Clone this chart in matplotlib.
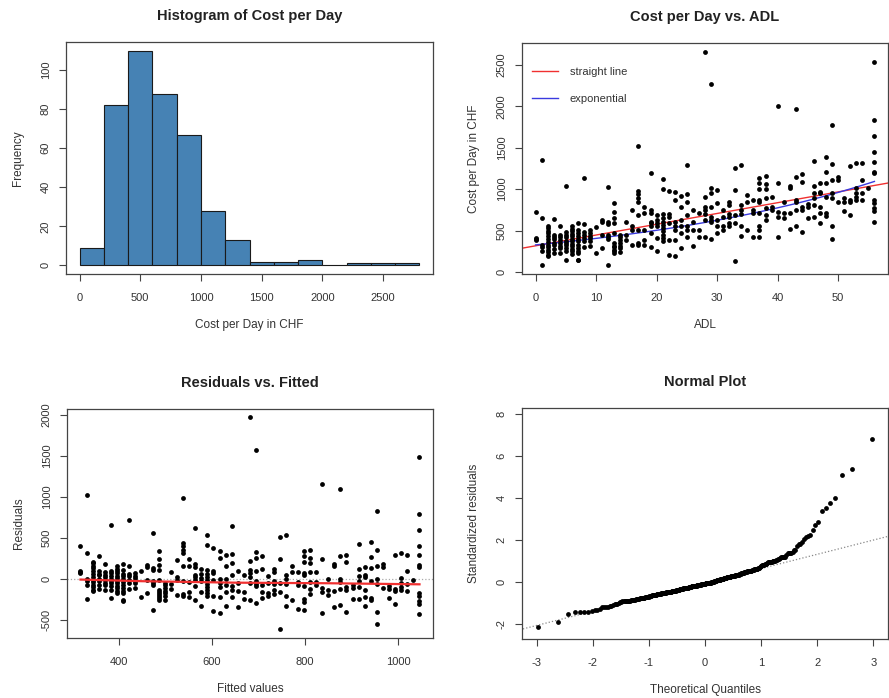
import matplotlib
matplotlib.use("Agg")
import matplotlib.pyplot as plt
import numpy as np
from statistics import NormalDist

plt.rcParams['font.family'] = ['Liberation Sans', 'DejaVu Sans']
plt.rcParams['axes.unicode_minus'] = False
plt.rcParams['text.color'] = '#333333'
plt.rcParams['axes.labelcolor'] = '#333333'
plt.rcParams['xtick.color'] = '#444444'
plt.rcParams['ytick.color'] = '#444444'
plt.rcParams['xtick.labelcolor'] = '#333333'
plt.rcParams['ytick.labelcolor'] = '#333333'

# histogram counts (bins of 200 CHF)
hist_edges = [0, 200, 400, 600, 800, 1000, 1200, 1400, 1600, 1800, 2000, 2200, 2400, 2600, 2800]
hist_counts = [9, 82, 110, 88, 67, 28, 13, 2, 2, 3, 0, 1, 1, 1]

# cost per day for each ADL score 0..56
adl_levels = list(range(57))
cost_by_adl = [
    [720, 410, 390, 400],
    [1350, 650, 330, 250, 80, 300],
    [550, 530, 500, 470, 440, 400, 360, 330, 300, 270, 240, 210, 190],
    [640, 450, 420, 400, 350, 330, 280, 230],
    [550, 450, 420, 390, 350, 320, 290, 230],
    [1040, 480, 450, 420, 380, 350, 330, 290, 250, 150],
    [550, 520, 490, 460, 430, 400, 370, 340, 310, 280, 250, 220],
    [590, 510, 470, 440, 400, 370, 330, 290, 260, 230, 150, 140],
    [1140, 580, 480, 450, 410, 370, 300],
    [510, 470, 440, 410, 380, 320],
    [540, 230],
    [630, 600, 450, 290],
    [1030, 600, 580, 450, 420, 400, 90],
    [830, 730, 650, 590, 470, 350, 320, 300, 270, 250, 230],
    [450, 420, 390, 350, 320, 290, 240],
    [600, 450, 390],
    [750, 550, 510, 330],
    [1520, 980, 940, 890, 850, 690, 510, 350, 330],
    [790, 710, 510, 390, 330],
    [1190, 750, 710, 610, 590, 550, 470, 300],
    [690, 630, 590, 550, 410, 250],
    [1120, 1000, 700, 650, 610, 570, 530, 490, 450, 410, 380],
    [980, 700, 670, 590, 390, 210],
    [960, 870, 610, 560, 510, 390, 200],
    [920, 790, 630, 550, 470, 290],
    [1290, 940, 840, 690, 550, 510, 420],
    [750, 600, 510, 310],
    [710, 510, 420],
    [2660, 900, 790, 750, 700, 630, 420],
    [2270, 1020, 950, 790, 670, 630, 600, 400],
    [990, 830, 630, 550, 470],
    [750, 670, 550, 510],
    [850, 810, 700, 670, 590, 550],
    [1250, 990, 690, 590, 130],
    [1290, 810, 750, 700, 550, 430],
    [930, 850, 510],
    [870, 750, 710, 420],
    [1140, 1080, 1000, 870, 840, 710, 550, 510, 420],
    [1160, 1060, 1000, 890, 770, 690, 630],
    [910, 790, 750],
    [2000, 1080, 730, 670, 420],
    [850, 710, 650],
    [1040, 1020, 710, 520],
    [1970, 1150, 870, 840, 750, 560],
    [1180, 1090, 790, 750, 480],
    [820, 790, 650],
    [1340, 1040, 950, 890, 810, 670],
    [1070, 970, 950, 790, 710, 590],
    [1390, 1210, 1070, 910, 710, 680],
    [1780, 1300, 1110, 950, 890, 550, 400],
    [1150, 1110, 850],
    [890, 850, 740],
    [1280, 870, 840, 690],
    [1320, 1010, 950, 910, 870],
    [1310, 1110, 950, 870],
    [1020],
    [2530, 1830, 1640, 1450, 1330, 1210, 1190, 870, 830, 770, 740, 610],
]

# model coefficients
line_intercept, line_slope = 317, 13.0
exp_a, exp_b = 328, 0.0215

# smoother in the residual plot
smooth_fitted = [317, 450, 650, 850, 1046]
smooth_resid = [-10, -30, -48, -55, -68]

adl = np.concatenate([[a] * len(c) for a, c in zip(adl_levels, cost_by_adl)]).astype(float)
cost = np.concatenate(cost_by_adl).astype(float)

fitted = line_intercept + line_slope * adl
resid = cost - fitted
n = len(resid)
s = np.sqrt(np.sum(resid ** 2) / (n - 2))
h = 1 / n + (adl - adl.mean()) ** 2 / np.sum((adl - adl.mean()) ** 2)
std_resid = np.sort(resid / (s * np.sqrt(1 - h)))
nd = NormalDist()
theo = np.array([nd.inv_cdf((i - 0.5) / n) for i in range(1, n + 1)])
q1, q3 = np.percentile(std_resid, [25, 75])
x1, x3 = nd.inv_cdf(0.25), nd.inv_cdf(0.75)
qq_slope = (q3 - q1) / (x3 - x1)
qq_int = q1 - qq_slope * x1

fig = plt.figure(figsize=(8.89, 6.98), dpi=100)
W, H = 889, 698


def make_ax(x0, y0, x1, y1):
    return fig.add_axes([x0 / W, 1 - y1 / H, (x1 - x0) / W, (y1 - y0) / H])


def style(ax, title, xlabel, ylabel):
    ax.set_title(title, fontsize=10.5, fontweight='bold', pad=16, color='#222222')
    ax.set_xlabel(xlabel, fontsize=8.5, labelpad=12)
    ax.set_ylabel(ylabel, fontsize=8.5, labelpad=12)
    ax.tick_params(direction='out', length=5, width=0.8, labelsize=8, pad=6)
    ax.tick_params(axis='x', pad=8.5)
    ax.tick_params(axis='y', labelrotation=90)
    for lab in ax.get_yticklabels():
        lab.set_va('center')
    for sp in ax.spines.values():
        sp.set_color('#444444')
        sp.set_linewidth(0.9)


# Histogram
ax1 = make_ax(66, 42, 433, 274)
ax1.bar(hist_edges[:-1], hist_counts, width=np.diff(hist_edges), align='edge',
        color='#4682B4', edgecolor='#1a1a1a', linewidth=0.8)
ax1.set_xlim(-112, 2912)
ax1.set_ylim(-4.4, 114.4)
ax1.set_xticks([0, 500, 1000, 1500, 2000, 2500])
ax1.set_yticks([0, 20, 40, 60, 80, 100])
style(ax1, 'Histogram of Cost per Day', 'Cost per Day in CHF', 'Frequency')

# Cost per Day vs ADL
ax2 = make_ax(522, 43, 888, 274)
ax2.scatter(adl, cost, s=12, color='black', linewidths=0, zorder=3)
xl = np.array([-2.24, 58.24])
ax2.plot(xl, line_intercept + line_slope * xl, color='#f03030', lw=1, label='straight line')
xs = np.array(adl_levels, dtype=float)
ax2.plot(xs, exp_a * np.exp(exp_b * xs), color='#3a3adf', lw=1, label='exponential')
ax2.set_xlim(-2.24, 58.24)
ax2.set_ylim(-23, 2763)
ax2.set_xticks([0, 10, 20, 30, 40, 50])
ax2.set_yticks([0, 500, 1000, 1500, 2000, 2500])
ax2.legend(loc='upper left', frameon=False, fontsize=8, handlelength=2.3,
           handletextpad=1.1, labelspacing=1.55, bbox_to_anchor=(0.0, 0.94))
style(ax2, 'Cost per Day vs. ADL', 'ADL', 'Cost per Day in CHF')

# Residuals vs Fitted
ax3 = make_ax(67, 409, 433, 638)
ax3.axhline(0, color='#aaaaaa', lw=0.9, ls=':')
ax3.scatter(fitted, resid, s=12, color='black', linewidths=0, zorder=3)
ax3.plot(smooth_fitted, smooth_resid, color='#f03030', lw=1.6, zorder=4)
ax3.set_xlim(288, 1075)
ax3.set_ylim(-724, 2074)
ax3.set_xticks([400, 600, 800, 1000])
ax3.set_yticks([-500, 0, 500, 1000, 1500, 2000])
style(ax3, 'Residuals vs. Fitted', 'Fitted values', 'Residuals')

# Normal plot
ax4 = make_ax(522, 408, 888, 639)
ax4.scatter(theo, std_resid, s=12, color='black', linewidths=0, zorder=3)
xq = np.array([-3.3, 3.3])
ax4.plot(xq, qq_int + qq_slope * xq, color='#888888', lw=0.9, ls=':')
ax4.set_xlim(-3.26, 3.26)
ax4.set_ylim(-2.69, 8.27)
ax4.set_xticks([-3, -2, -1, 0, 1, 2, 3])
ax4.set_yticks([-2, 0, 2, 4, 6, 8])
style(ax4, 'Normal Plot', 'Theoretical Quantiles', 'Standardized residuals')

fig.savefig('out.png', dpi=100)
